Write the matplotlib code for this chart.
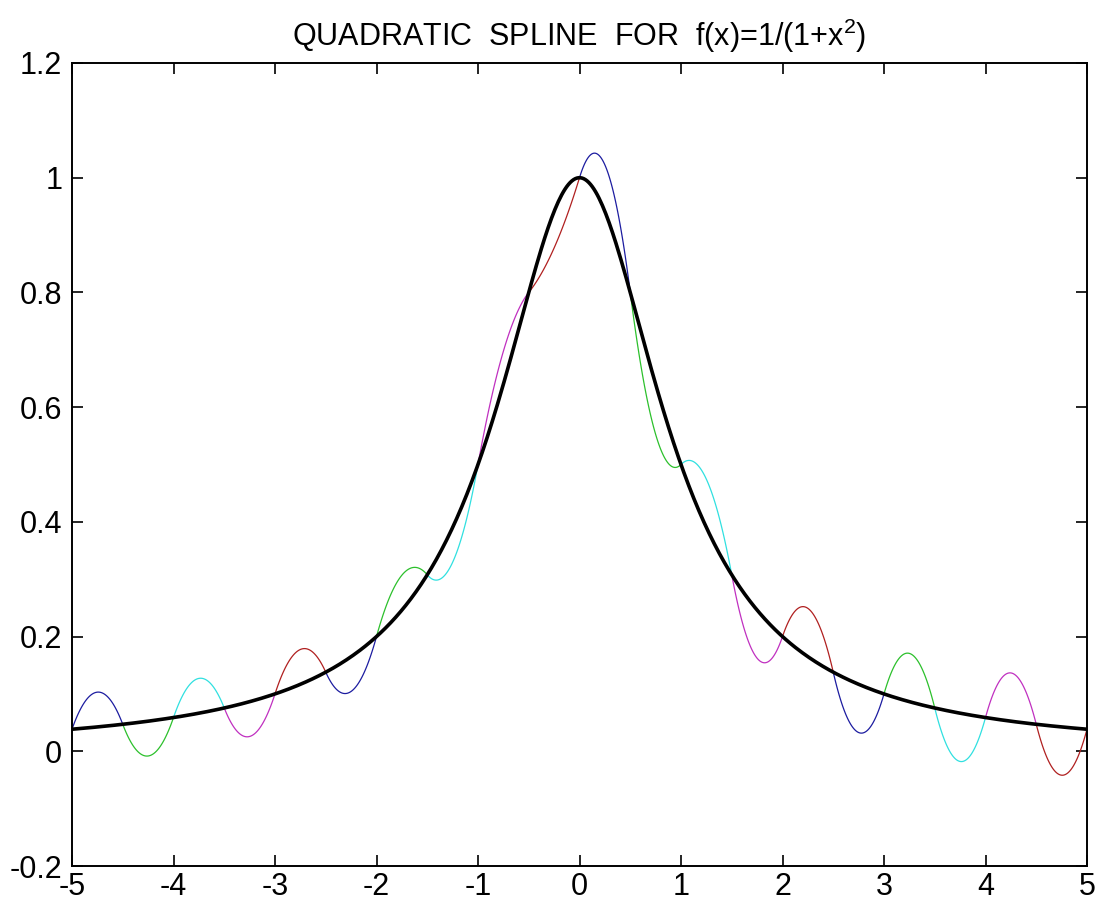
import numpy as np
import matplotlib
matplotlib.use("Agg")
import matplotlib.pyplot as plt

plt.rcParams['font.family'] = ['Liberation Sans', 'DejaVu Sans']
plt.rcParams['mathtext.default'] = 'regular'

# Knots of the quadratic spline (step 0.5) and the interpolated values
knots_x = [-5.0, -4.5, -4.0, -3.5, -3.0, -2.5, -2.0, -1.5, -1.0, -0.5, 0.0,
           0.5, 1.0, 1.5, 2.0, 2.5, 3.0, 3.5, 4.0, 4.5, 5.0]
knots_y = [0.038462, 0.047059, 0.058824, 0.075472, 0.100000, 0.137931, 0.200000,
           0.307692, 0.500000, 0.800000, 1.000000, 0.800000, 0.500000, 0.307692,
           0.200000, 0.137931, 0.100000, 0.075472, 0.058824, 0.047059, 0.038462]
# Spline slopes at the knots
knots_slope = [0.5, -0.465612, 0.512672, -0.44608, 0.544192, -0.392468, 0.640744,
               -0.209976, 0.979208, 0.220792, 0.579208, -1.379208, 0.179208,
               -0.94844, 0.517672, -0.765948, 0.614224, -0.712336, 0.645744,
               -0.692804, 0.658416]
piece_colors = ['#1c1ca0', '#2cc02c', '#30e0e0', '#c030c0', '#b02020']

x_ticks = [-5, -4, -3, -2, -1, 0, 1, 2, 3, 4, 5]
y_ticks = [-0.2, 0, 0.2, 0.4, 0.6, 0.8, 1, 1.2]
y_tick_labels = ['-0.2', '0', '0.2', '0.4', '0.6', '0.8', '1', '1.2']
x_tick_labels = ['-5', '-4', '-3', '-2', '-1', '0', '1', '2', '3', '4', '5']

fig = plt.figure(figsize=(10.97, 9.08), dpi=100)
fig.patch.set_facecolor('white')
ax = fig.add_axes([72 / 1097, 1 - 866 / 908, 1015 / 1097, 803 / 908])

# Quadratic pieces, one per knot interval
for i in range(len(knots_x) - 1):
    h = knots_x[i + 1] - knots_x[i]
    t = np.linspace(0.0, h, 80)
    q = knots_y[i] + knots_slope[i] * t + (knots_slope[i + 1] - knots_slope[i]) / (2 * h) * t ** 2
    ax.plot(knots_x[i] + t, q, color=piece_colors[i % len(piece_colors)], lw=0.9, zorder=2)

# The function f(x)=1/(1+x^2)
xs = np.linspace(-5, 5, 600)
ax.plot(xs, 1.0 / (1.0 + xs ** 2), color='black', lw=2.6, zorder=3)

ax.set_xlim(-5, 5)
ax.set_ylim(-0.2, 1.2)
ax.set_xticks(x_ticks)
ax.set_xticklabels(x_tick_labels)
ax.set_yticks(y_ticks)
ax.set_yticklabels(y_tick_labels)
ax.tick_params(direction='in', length=8, width=1.2, top=True, right=True,
               labelsize=22, pad=4)
ax.tick_params(axis='y', pad=7)
for s in ax.spines.values():
    s.set_linewidth(1.4)

ax.set_title('QUADRATIC  SPLINE  FOR  f(x)=1/(1+x$^{2}$)', fontsize=22, pad=12)

fig.savefig('out.png', dpi=100, facecolor='white')
